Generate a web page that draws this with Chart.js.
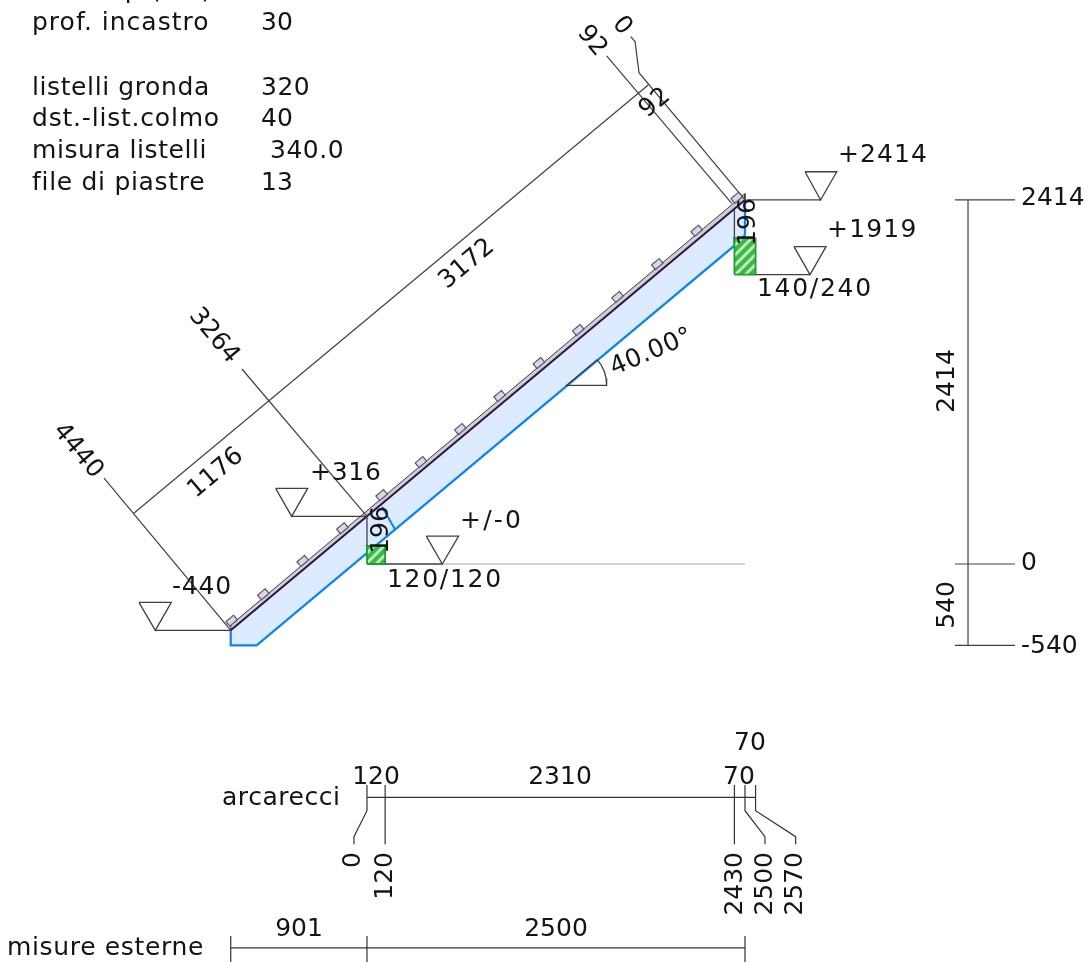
<!DOCTYPE html>
<html><head><meta charset="utf-8">
<style>html,body{margin:0;padding:0;background:#fff}#w{width:1088px;height:963px}canvas{display:block}</style>
<script src="https://cdn.jsdelivr.net/npm/chart.js@4"></script></head>
<body><div id="w"><canvas id="c" width="1088" height="963"></canvas></div>
<script>
// ---- values in drawing millimetres ----
const rafterFill=[[-901,-440],[-901,-540],[-730,-540],[2430,2111],[2430,2159],[2490,2159],[2500,2190],[2500,2414]];
const rafterEdge=[[-901,-440],[-901,-540],[-730,-540],[2430,2111],[2430,2159],[2490,2159],[2500,2190],[2500,2414]];
const rafterNotch=[[0,72],[0,120],[100,120]];
const rafterCut=[[100,380],[185,230]];
const boardBand=[[-901,-440],[-901,-405],[2500,2456],[2500,2414]];
const roofLine=[[-901,-440],[2500,2414]];
const beamLow=[[0,0],[120,0],[120,120],[0,120],[0,0]];
const beamHigh=[[2430,1919],[2570,1919],[2570,2159],[2430,2159],[2430,1919]];
const battenX=[-895,-686,-425,-163,97,357,617,877,1137,1397,1657,1920,2180,2445];
const battenY=[-376,-201,20,237,457,676,895,1114,1333,1552,1771,1989,2210,2429];
const levelLines=[
 [[2511,2414],[3000,2414]],[[2570,1919],[2930,1919]],[[-498,316],[0,316]],[[-1400,-440],[-901,-440]],[[120,0],[498,0]],
 [[0,120],[0,316]],[[2430,2159],[2430,2355]]];
const groundLine=[[498,0],[2500,0]];
const levelTriangles=[
 [[2897,2601],[3107,2601],[3000,2414],[2897,2601]],
 [[2824,2105],[3036,2105],[2930,1919],[2824,2105]],
 [[-604,501],[-392,501],[-498,316],[-604,501]],
 [[-1508,-255],[-1294,-255],[-1400,-440],[-1508,-255]],
 [[392,185],[606,185],[498,0],[392,185]]];
const slopeDims=[
 [[-1544,335],[1860,3176]],
 [[-1739,570],[-901,-440]],
 [[-827,1293],[0,316]],
 [[1585,3369],[2412,2392]],
 [[1744,3497],[1773,3464],[1799,3258],[2500,2414]]];
const angleMark=[[1523,1355],[1550,1318],[1570,1276],[1581,1231],[1585,1185],[1321,1185],[1523,1355]];
const heightDims=[
 [[3975,2414],[3975,-540]],[[3889,2414],[4286,2414]],[[3889,0],[4286,0]],[[3889,-540],[4286,-540]]];
const purlinDims=[
 [[0,-1548],[2570,-1548]],
 [[0,-1465],[0,-1636],[-86,-1808],[-86,-1859]],
 [[120,-1465],[120,-1859]],
 [[2430,-1465],[2430,-1859]],
 [[2500,-1465],[2500,-1636],[2632,-1808],[2632,-1859]],
 [[2570,-1465],[2570,-1636],[2835,-1808],[2835,-1859]]];
const outerDims=[
 [[-901,-2546],[2500,-2546]],[[-901,-2467],[-901,-2639]],[[0,-2467],[0,-2639]],[[2500,-2467],[2500,-2639]]];

// ---- texts ----
const noteTexts=["altr. sup (cm)","180","prof. incastro","30","listelli gronda","320","dst.-list.colmo","40","misura listelli","340.0","file di piastre","13"];
const levelTexts=["+2414","+1919","+316","-440","+/-0","140/240","120/120"];
const slopeTexts=["0","92","92","3172","3264","1176","4440","40.00°"];
const heightTexts=["196","196","2414","540","2414","0","-540"];
const purlinTexts=["arcarecci","120","2310","70","70","0","120","2430","2500","2570"];
const outerTexts=["misure esterne","901","2500"];

// ---- page layout of the texts: x, y, rotation in degrees, alignment, letter spacing ----
const noteLayout=[[32,-10,0,'left',1],[257,-10,0,'left',0],[32,22,0,'left',1],[261,22,0,'left',0],[32,87,0,'left',.6],[261,87,0,'left',.5],[32,118,0,'left',.8],[261,118,0,'left',0],[32,150,0,'left',.55],[270,150,0,'left',.5],[32,182,0,'left',.7],[261,182,0,'left',0]];
const levelLayout=[[838,154,0,'left',1.1],[827,229,0,'left',1.2],[310,472,0,'left',.75],[172,586,0,'left',.8],[460,520,0,'left',2.2],[757,288,0,'left',1.7],[387,579,0,'left',1.7]];
const slopeLayout=[[623,25,50,'center',0],[593,40,50,'center',0],[654,102,-40,'center',0],[466,263,-40,'center',0],[215,335,50,'center',0],[215,472,-40,'center',0],[79,450,50,'center',0],[651,351,-23,'center',.5]];
const heightLayout=[[746.5,222,-90,'center',0],[379.5,530,-90,'center',0],[945.5,381,-90,'center',0],[945.5,605,-90,'center',0],[1021,197,0,'left',0],[1021,562,0,'left',0],[1021,645,0,'left',0]];
const purlinLayout=[[222,797,0,'left',.55],[376,776,0,'center',0],[560,776,0,'center',0],[739,776,0,'center',0],[750,742,0,'center',0],[351.5,852,-90,'right',0],[383.5,852,-90,'right',0],[733.5,852,-90,'right',0],[763.5,852,-90,'right',0],[793.5,852,-90,'right',0]];
const outerLayout=[[7,947,0,'left',.65],[299,928,0,'center',0],[556,928,0,'center',0]];

const pts=a=>a.map(p=>({x:p[0],y:p[1]}));
const line=(a,color,width,extra)=>Object.assign({data:pts(a),borderColor:color,borderWidth:width,pointRadius:0,showLine:true,fill:false,tension:0,borderJoinStyle:'miter',clip:false},extra||{});

function hatch(){
  const c=document.createElement('canvas');c.width=c.height=10;const g=c.getContext('2d');
  g.fillStyle='#3fb84a';g.fillRect(0,0,10,10);
  g.strokeStyle='#bdeebd';g.lineWidth=2.8;
  [[-1,11,11,-1],[-6,6,6,-6],[4,16,16,4]].forEach(s=>{g.beginPath();g.moveTo(s[0],s[1]);g.lineTo(s[2],s[3]);g.stroke();});
  return document.createElement('canvas').getContext('2d').createPattern(c,'repeat');
}
function battenGlyph(){
  const c=document.createElement('canvas');c.width=13;c.height=9;const g=c.getContext('2d');
  g.fillStyle='#dcd8e6';g.strokeStyle='#4a4560';g.lineWidth=1.1;
  g.fillRect(1.5,1.5,10,6);g.strokeRect(1.5,1.5,10,6);return c;
}
const INK='#404040';
const pattern=hatch();
const layers=[
  line(rafterFill,'rgba(0,0,0,0)',0,{fill:'shape',backgroundColor:'#dcebff'}),
  line(rafterEdge,'#0a84f5',2.2),
  line(rafterCut,'#0a84f5',2),
  line(rafterNotch,'#0a84f5',2),
  line(boardBand,'#3c3c3c',1,{fill:'shape',backgroundColor:'#cfcfcf'}),
  line(roofLine,'#2a1548',2),
  line(beamLow,'#1ea02a',1.8,{fill:'shape',backgroundColor:pattern}),
  line(beamHigh,'#1ea02a',1.8,{fill:'shape',backgroundColor:pattern}),
  line(groundLine,'#a8a8a8',1.2),
  ...levelLines.map(a=>line(a,INK,1.3)),
  ...levelTriangles.map(a=>line(a,INK,1.3)),
  ...slopeDims.map(a=>line(a,INK,1.2)),
  line(angleMark,INK,1.3),
  ...heightDims.map(a=>line(a,INK,1.2)),
  ...purlinDims.map(a=>line(a,'#333',1.2)),
  ...outerDims.map(a=>line(a,'#333',1.2)),
  {data:battenX.map((x,i)=>({x:x,y:battenY[i]})),showLine:false,pointStyle:battenGlyph(),pointRotation:-40,pointRadius:5,clip:false}
];
layers.forEach((d,i)=>d.order=layers.length-i);

const textPlugin={id:'drawingTexts',afterDatasetsDraw(chart){
  const g=chart.ctx;
  g.save();g.fillStyle='#141414';g.font='25px "DejaVu Sans"';g.textBaseline='middle';
  [[noteTexts,noteLayout],[levelTexts,levelLayout],[slopeTexts,slopeLayout],[heightTexts,heightLayout],[purlinTexts,purlinLayout],[outerTexts,outerLayout]].forEach(([t,l])=>{
    t.forEach((s,i)=>{const [x,y,r,al,sp]=l[i];g.save();g.translate(x,y);g.rotate(r*Math.PI/180);g.textAlign=al;g.letterSpacing=sp+'px';g.fillText(s,0,1.5);g.restore();});
  });
  g.restore();
}};

new Chart(document.getElementById('c'),{
  type:'scatter',
  data:{datasets:layers},
  plugins:[textPlugin],
  options:{
    responsive:false,animation:false,devicePixelRatio:1,
    layout:{padding:0,autoPadding:false},
    plugins:{legend:{display:false},tooltip:{enabled:false},title:{display:false}},
    events:[],
    scales:{
      x:{type:'linear',display:false,min:-2427,max:4768.5},
      y:{type:'linear',display:false,min:-2646,max:3740}
    }
  }
});
</script></body></html>
